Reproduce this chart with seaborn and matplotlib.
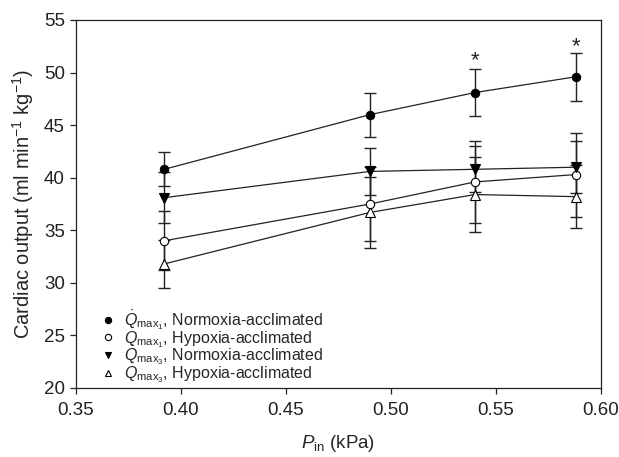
import matplotlib
matplotlib.use("Agg")
import matplotlib.pyplot as plt
import seaborn as sns
import pandas as pd
import numpy as np

# ---- data ----
pin = [0.392, 0.490, 0.540, 0.588]
q1_norm = [40.8, 46.0, 48.1, 49.6]
q1_norm_err = [1.6, 2.1, 2.2, 2.3]
q1_hyp = [34.0, 37.5, 39.6, 40.3]
q1_hyp_err = [2.8, 3.5, 3.9, 4.0]
q3_norm = [38.1, 40.6, 40.8, 41.0]
q3_norm_err = [2.4, 2.25, 2.2, 2.5]
q3_hyp = [31.8, 36.7, 38.4, 38.2]
q3_hyp_err = [2.3, 3.4, 3.6, 3.0]
labels = [r"$\dot{Q}_{\mathrm{max}_1}$, Normoxia-acclimated",
          r"$\dot{Q}_{\mathrm{max}_1}$, Hypoxia-acclimated",
          r"$\dot{Q}_{\mathrm{max}_3}$, Normoxia-acclimated",
          r"$\dot{Q}_{\mathrm{max}_3}$, Hypoxia-acclimated"]
sig_x = [0.540, 0.588]
sig_y = [51.1, 52.5]

sns.set_theme(style="ticks")
plt.rcParams['font.family'] = ['Liberation Sans', 'DejaVu Sans']
plt.rcParams['mathtext.fontset'] = 'custom'
plt.rcParams['mathtext.rm'] = 'Liberation Sans'
plt.rcParams['mathtext.it'] = 'Liberation Sans:italic'

fig = plt.figure(figsize=(6.19, 4.57), dpi=100)
ax = fig.add_axes([76/619, 1-388/457, (601-76)/619, (388-20)/457])

series = [
    (q1_norm, q1_norm_err, 'o', 'black'),
    (q1_hyp, q1_hyp_err, 'o', 'white'),
    (q3_norm, q3_norm_err, 'v', 'black'),
    (q3_hyp, q3_hyp_err, '^', 'white'),
]
order = [3, 1, 2, 0]
for i, (vals, err, m, fc) in enumerate(series):
    ax.errorbar(pin, vals, yerr=err, fmt='none', ecolor='#222222', elinewidth=1.0,
                capsize=4.3, capthick=1.0, zorder=2)
for i, (vals, err, m, fc) in enumerate(series):
    df = pd.DataFrame({'x': pin, 'y': vals})
    sns.lineplot(data=df, x='x', y='y', ax=ax, color='#222222', linewidth=0.9,
                 marker=m, markersize=6 if m == 'o' else 6.5, markerfacecolor=fc,
                 markeredgecolor='black', markeredgewidth=0.8, label=labels[i],
                 zorder=3 + order[i])

for x, y in zip(sig_x, sig_y):
    ax.text(x, y, '*', ha='center', va='center', fontsize=16, color='#222222')

ax.set_xlim(0.35, 0.60)
ax.set_ylim(20, 55)
ax.set_xticks([0.35, 0.40, 0.45, 0.50, 0.55, 0.60])
ax.set_xticklabels(['0.35', '0.40', '0.45', '0.50', '0.55', '0.60'])
ax.set_yticks([20, 25, 30, 35, 40, 45, 50, 55])
ax.tick_params(labelsize=13.5, direction='out', length=4, width=0.9, colors='#222222')
ax.tick_params(axis='x', pad=6)
ax.tick_params(axis='y', pad=4)
for s in ax.spines.values():
    s.set_linewidth(0.9)
    s.set_color('#222222')
ax.set_xlabel(r"$P_{\mathrm{in}}$ (kPa)", fontsize=13.5, labelpad=10)
ax.set_ylabel(r"Cardiac output (ml min$^{-1}$ kg$^{-1}$)", fontsize=14.5, labelpad=6)

handles, labs = ax.get_legend_handles_labels()
leg = ax.legend(handles, labs, loc='lower left', bbox_to_anchor=(0.045, 0.0),
                frameon=False, fontsize=11.5, handlelength=0.6, handletextpad=0.7,
                labelspacing=-0.38, borderaxespad=0.0, borderpad=0.2)
for h in leg.legend_handles:
    h.set_linestyle('none')
    h.set_markersize(4.5)

fig.savefig('out.png', dpi=100, facecolor='white')
